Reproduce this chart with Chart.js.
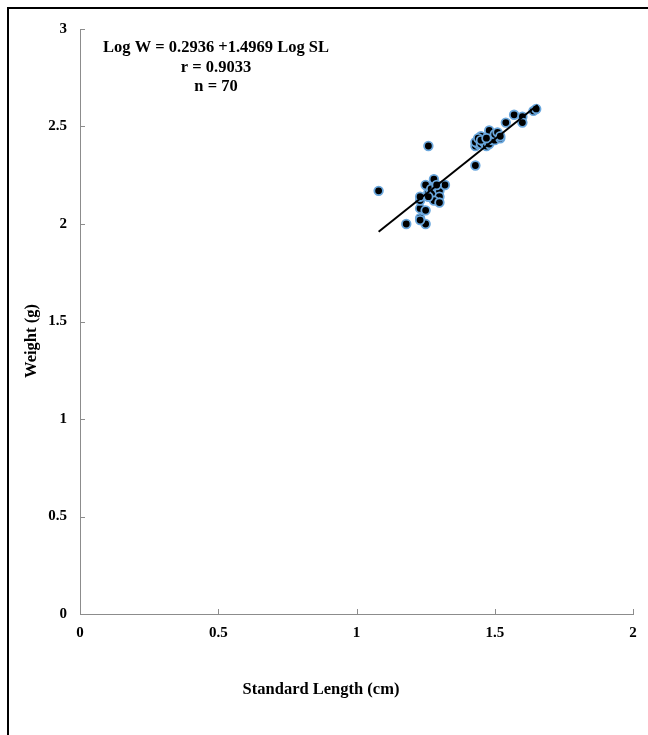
<!DOCTYPE html>
<html>
<head>
<meta charset="utf-8">
<script src="https://cdn.jsdelivr.net/npm/chart.js@4/dist/chart.umd.min.js"></script>
<style>
  html, body { margin: 0; padding: 0; background: #fff; }
  #wrap { position: relative; width: 648px; height: 735px; }
  #frame { position: absolute; left: 7px; top: 7px; right: 0; bottom: 0; border-top: 2px solid #000; border-left: 2px solid #000; }
  canvas { position: absolute; left: 0; top: 0; }
</style>
</head>
<body>
<div id="wrap">
  <div id="frame"></div>
  <canvas id="chart" width="648" height="735"></canvas>
</div>
<script>
// log standard length (x) and log weight (y)
const logSL = [
  1.08, 1.18, 1.26, 1.25, 1.23, 1.23, 1.23, 1.25, 1.23, 1.23, 1.26, 1.26,
  1.25, 1.27, 1.28, 1.28, 1.29, 1.30, 1.30, 1.28, 1.30, 1.32, 1.29, 1.26,
  1.43, 1.43, 1.44, 1.43, 1.45, 1.44, 1.45, 1.46, 1.47, 1.48, 1.48, 1.49,
  1.50, 1.50, 1.51, 1.52, 1.52, 1.54, 1.57, 1.60, 1.60, 1.64, 1.65, 1.45, 1.47
];
const logW = [
  2.17, 2.00, 2.40, 2.00, 2.03, 2.02, 2.08, 2.07, 2.12, 2.14, 2.16, 2.19,
  2.20, 2.18, 2.23, 2.16, 2.19, 2.17, 2.14, 2.12, 2.11, 2.20, 2.20, 2.14,
  2.30, 2.40, 2.41, 2.42, 2.45, 2.44, 2.41, 2.42, 2.40, 2.48, 2.41, 2.43,
  2.43, 2.46, 2.47, 2.44, 2.45, 2.52, 2.56, 2.55, 2.52, 2.58, 2.59, 2.43, 2.44
];
// fitted line ends
const fitX = [1.08, 1.655];
const fitY = [1.96, 2.61];

const equationLines = ['Log W = 0.2936 +1.4969 Log SL', 'r = 0.9033', 'n = 70'];
const xTitle = 'Standard Length (cm)';
const yTitle = 'Weight (g)';

const serif = '"Liberation Serif", "Times New Roman", serif';

// short tick marks inside the plot area, the equation text and the axis titles
const extras = {
  id: 'extras',
  afterDraw(chart) {
    const ctx = chart.ctx;
    const xs = chart.scales.x, ys = chart.scales.y;
    ctx.save();
    ctx.strokeStyle = '#8c8c8c';
    ctx.lineWidth = 1;
    ctx.beginPath();
    xs.ticks.forEach(t => {
      const px = Math.round(xs.getPixelForValue(t.value)) + 0.5;
      ctx.moveTo(px, ys.bottom);
      ctx.lineTo(px, ys.bottom - 5);
    });
    ys.ticks.forEach(t => {
      const py = Math.round(ys.getPixelForValue(t.value)) + 0.5;
      ctx.moveTo(xs.left, py);
      ctx.lineTo(xs.left + 5, py);
    });
    ctx.stroke();

    ctx.fillStyle = '#000';
    ctx.textAlign = 'center';
    ctx.textBaseline = 'middle';
    ctx.font = 'bold 16.5px ' + serif;
    equationLines.forEach((s, i) => ctx.fillText(s, 216, 48 + i * 19.5));

    ctx.font = 'bold 16.5px ' + serif;
    ctx.fillText(xTitle, 321, 690);
    ctx.translate(32, 341);
    ctx.rotate(-Math.PI / 2);
    ctx.fillText(yTitle, 0, 0);
    ctx.restore();
  }
};

const tickFont = { family: serif, size: 15, weight: 'bold' };

new Chart(document.getElementById('chart'), {
  type: 'scatter',
  data: {
    datasets: [
      {
        type: 'line',
        label: 'Fit',
        data: fitX.map((x, i) => ({ x: x, y: fitY[i] })),
        borderColor: '#000',
        borderWidth: 2,
        pointRadius: 0,
        fill: false,
        order: 0
      },
      {
        label: 'Weight',
        data: logSL.map((x, i) => ({ x: x, y: logW[i] })),
        backgroundColor: '#000',
        borderColor: '#6aa7dd',
        borderWidth: 1.8,
        pointRadius: 4.3,
        order: 1
      }
    ]
  },
  options: {
    responsive: false,
    animation: false,
    layout: { padding: { top: 29, right: 15, left: 0, bottom: 0 } },
    plugins: { legend: { display: false }, tooltip: { enabled: false } },
    scales: {
      x: {
        type: 'linear',
        min: 0, max: 2,
        afterFit(s) { s.height = 121; },
        ticks: { stepSize: 0.5, color: '#000', padding: 10, font: tickFont, callback: v => String(v) },
        grid: { drawOnChartArea: false, drawTicks: false },
        border: { color: '#8c8c8c', width: 1 }
      },
      y: {
        type: 'linear',
        min: 0, max: 3,
        afterFit(s) { s.width = 80; },
        ticks: { stepSize: 0.5, color: '#000', padding: 13, font: tickFont, callback: v => String(v) },
        grid: { drawOnChartArea: false, drawTicks: false },
        border: { color: '#8c8c8c', width: 1 }
      }
    }
  },
  plugins: [extras]
});
</script>
</body>
</html>
